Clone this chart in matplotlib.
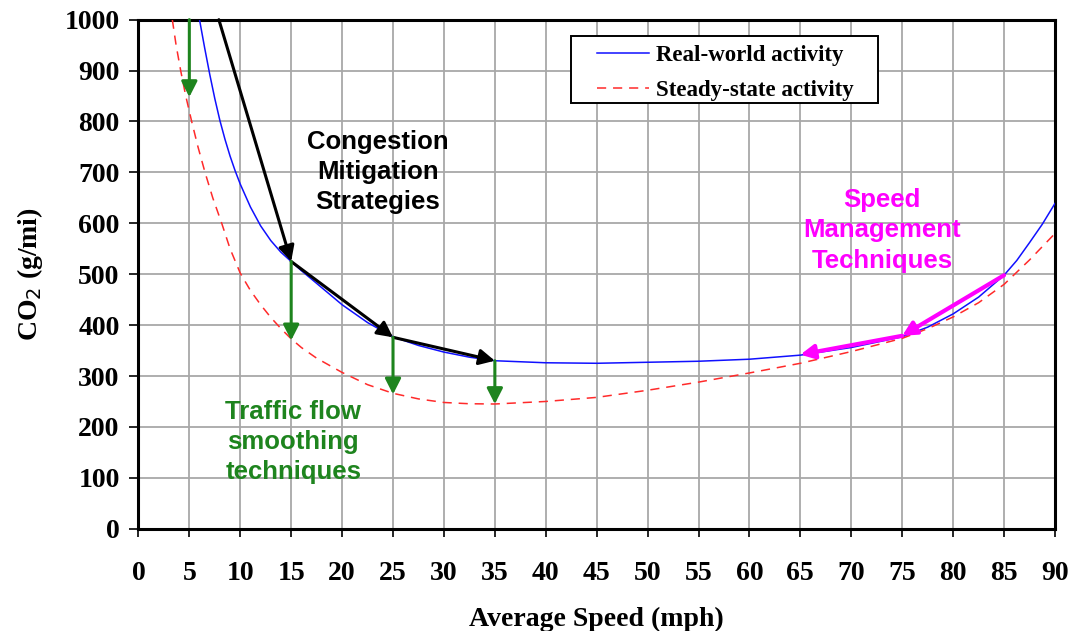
import matplotlib
matplotlib.use("Agg")
import matplotlib.pyplot as plt
from matplotlib.patches import Rectangle

# ---- data ----
real_speed = [6.0, 6.5, 7, 7.5, 8, 8.5, 9, 9.5, 10, 11, 12, 13, 14, 15, 16, 17.5, 20, 22.5,
              25, 27.5, 30, 32.5, 35, 40, 45, 50, 55, 60, 65, 70, 75, 77.5, 80, 82.5, 85,
              86.25, 87.5, 88.75, 90]
real_co2 = [1000, 945, 893, 845, 802, 765, 732, 703, 677, 632, 595, 566, 543, 525, 507, 482, 440, 405,
            377, 360, 347, 337, 330, 326, 325, 327, 329, 333, 341, 356, 377, 396, 422, 455, 498,
            527, 562, 598, 639]

steady_speed = [3.33, 3.7, 4.15, 4.65, 5.23, 5.85, 6.54, 7.3, 8.18, 9, 10, 11, 12, 13, 14, 15, 16,
                17.5, 20, 22.5, 25, 27.5, 30, 32.5, 35, 40, 45, 50, 55, 60, 65, 70, 75, 77.5, 80,
                82.5, 85, 87.5, 90]
steady_co2 = [1000, 950, 900, 850, 800, 750, 700, 650, 600, 550, 502, 468, 440, 415, 393, 373, 356,
              335, 307, 283, 266, 255, 248, 245.5, 245, 250, 258, 272, 288, 306, 325, 348, 374, 393,
              416, 444, 480, 528, 580]

congestion_x = [7.9, 15, 25, 35]
congestion_y = [1000, 525, 376, 330]

smoothing_x = [5, 15, 25, 35]
smoothing_from = [1000, 525, 376, 330]
smoothing_to = [848, 370, 264, 245]

speed_mgmt_x = [85, 75, 65]
speed_mgmt_y = [498, 379, 342]

x_ticks = list(range(0, 95, 5))
y_ticks = list(range(0, 1100, 100))

serif = ["Liberation Serif", "DejaVu Serif"]
sans = ["Liberation Sans", "DejaVu Sans"]

fig = plt.figure(figsize=(10.73, 6.31), dpi=100)
ax = fig.add_axes([0.129, 0.1621, 0.9832 - 0.129, 0.9688 - 0.1621])

ax.plot(real_speed, real_co2, color="#1010ff", lw=1.1, label="Real-world activity", zorder=3)
ax.plot(steady_speed, steady_co2, color="#ff2a2a", lw=1.1, dashes=(6, 4.5),
        label="Steady-state activity", zorder=3)

def arrow(x0, y0, x1, y1, color, lw, ms):
    ax.annotate("", xy=(x1, y1), xytext=(x0, y0),
                arrowprops=dict(arrowstyle="-|>,head_length=0.55,head_width=0.28",
                                color=color, lw=lw, mutation_scale=ms,
                                shrinkA=0, shrinkB=0),
                zorder=5, annotation_clip=False)

for i in range(len(congestion_x) - 1):
    arrow(congestion_x[i], congestion_y[i], congestion_x[i + 1], congestion_y[i + 1],
          "black", 2.2, 17)

for x, y0, y1 in zip(smoothing_x, smoothing_from, smoothing_to):
    arrow(x, y0, x, y1, "#1e841e", 2.2, 17)

for i in range(len(speed_mgmt_x) - 1):
    arrow(speed_mgmt_x[i], speed_mgmt_y[i], speed_mgmt_x[i + 1], speed_mgmt_y[i + 1],
          "#ff00ff", 3.0, 15)

ax.text(23.5, 701, "Congestion\nMitigation\nStrategies", ha="center", va="center",
        fontsize=18.5, fontweight="bold", family=sans, color="black", linespacing=1.33)
ax.text(15.2, 170, "Traffic flow\nsmoothing\ntechniques", ha="center", va="center",
        fontsize=18.5, fontweight="bold", family=sans, color="#1e841e", linespacing=1.33)
ax.text(73.0, 586, "Speed\nManagement\nTechniques", ha="center", va="center",
        fontsize=18.5, fontweight="bold", family=sans, color="#ff00ff", linespacing=1.33)

ax.set_xlim(0, 90)
ax.set_ylim(0, 1000)
ax.set_xticks(x_ticks)
ax.set_yticks(y_ticks)
ax.set_xticklabels([str(v) for v in x_ticks], fontsize=20, fontweight="bold", family=serif)
ax.set_yticklabels([str(v) for v in y_ticks], fontsize=20, fontweight="bold", family=serif)
ax.tick_params(axis="x", direction="out", length=6, width=1.2, pad=17)
ax.tick_params(axis="y", direction="out", length=6.5, width=1.2, pad=7)

ax.grid(True, color="#a8a8a8", lw=1.3, zorder=0)
ax.set_axisbelow(True)
for s in ax.spines.values():
    s.set_linewidth(2.2)
    s.set_color("black")

ax.set_xlabel("Average Speed (mph)", fontsize=20, fontweight="bold", family=serif, labelpad=15)
ax.set_ylabel("CO$_2$ (g/mi)", fontsize=20, fontweight="bold", family=serif, labelpad=14)

# legend frame drawn separately, legend entries placed inside
frame = Rectangle((0.472, 0.836), 0.807 - 0.472, 0.968 - 0.836, transform=ax.transAxes,
                  facecolor="white", edgecolor="black", lw=1.4, zorder=6)
ax.add_patch(frame)
leg = ax.legend(loc="center left", bbox_to_anchor=(0.500, 0.895), frameon=False,
                prop={"family": serif, "weight": "bold", "size": 16.5},
                handlelength=2.3, handletextpad=0.3, labelspacing=0.58, borderpad=0,
                borderaxespad=0)
leg.set_zorder(7)

fig.savefig("out.png", dpi=100)
